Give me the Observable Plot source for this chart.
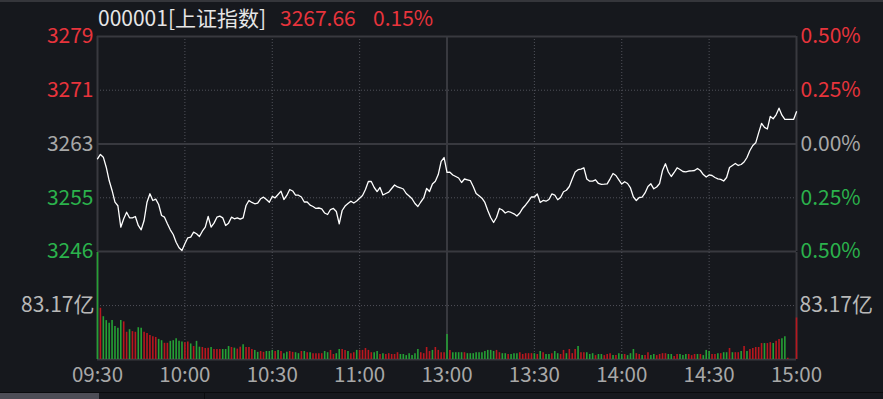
<!DOCTYPE html>
<html><head><meta charset="utf-8">
<script src="https://cdn.jsdelivr.net/npm/d3@7"></script>
<script src="https://cdn.jsdelivr.net/npm/@observablehq/plot@0.6"></script>
<style>
html,body{margin:0;padding:0;background:#16181d;}
#wrap{position:relative;width:883px;height:399px;overflow:hidden;background:#16181d;font-family:"Noto Sans CJK SC","Noto Sans",sans-serif;}
#title{position:relative;height:28px;border-top:2px solid #35363b;box-sizing:border-box;font-size:21px;line-height:21px;}
#title span{position:absolute;top:5px;white-space:nowrap;}
#price,#vol{display:block;line-height:0;}
#tabs{position:absolute;left:0;top:392px;width:883px;height:7px;border-top:1px solid #0a0b0d;background:#16181d;}
#tabs .t1{position:absolute;left:0;top:0;width:99px;height:7px;background:#4d4d56;}
#tabs .t2{position:absolute;left:204px;top:0;width:1px;height:7px;background:#0a0b0d;}
</style></head>
<body>
<div id="wrap">
  <div id="title"></div>
  <div id="price"></div>
  <div id="vol"></div>
  <div id="tabs"><div class="t1"></div><div class="t2"></div></div>
</div>
<script>
// ---------- data ----------
const titleCode = "000001[上证指数]";
const titleLast = "3267.66";
const titleChg = "0.15%";
const prevClose = 3262.77;

const priceTicks = [3279.08, 3270.93, 3262.77, 3254.61, 3246.46];
const priceLabels = ["3279", "3271", "3263", "3255", "3246"];
const pctLabels = ["0.50%", "0.25%", "0.00%", "0.25%", "0.50%"];

const timeTicks = [0, 30, 60, 90, 120, 150, 180, 210, 240];
const timeLabels = ["09:30", "10:00", "10:30", "11:00", "13:00", "13:30", "14:00", "14:30", "15:00"];

const volRef = 83.17;
const volRefLabel = "83.17亿";
const volTop = 165;

const prices = [
  3260.53, 3261.18, 3260.77, 3259.25, 3257.23, 3255.72, 3253.94, 3253.40, 3250.15, 3251.42,
  3252.42, 3251.57, 3251.57, 3251.77, 3250.41, 3249.75, 3251.16, 3253.94, 3255.22, 3254.20,
  3254.40, 3253.59, 3251.92, 3251.67, 3250.66, 3249.75, 3249.04, 3247.87, 3247.02, 3246.61,
  3247.63, 3248.54, 3248.63, 3249.39, 3249.15, 3248.74, 3249.54, 3250.15, 3251.77, 3250.15,
  3250.76, 3251.67, 3251.82, 3251.57, 3250.41, 3250.76, 3251.67, 3251.42, 3251.57, 3251.36,
  3251.57, 3253.44, 3254.20, 3253.90, 3253.70, 3253.79, 3254.46, 3254.70, 3254.35, 3253.94,
  3254.81, 3254.61, 3255.11, 3255.61, 3254.35, 3254.96, 3255.87, 3255.64, 3255.00, 3255.00,
  3254.73, 3253.97, 3253.97, 3253.49, 3253.29, 3252.99, 3253.06, 3252.94, 3252.30, 3252.08,
  3252.83, 3252.99, 3252.53, 3250.66, 3252.68, 3253.36, 3253.74, 3254.09, 3253.82, 3254.12,
  3254.55, 3254.96, 3255.87, 3257.08, 3257.08, 3256.17, 3255.56, 3256.17, 3255.03, 3255.26,
  3255.46, 3256.02, 3256.55, 3256.25, 3256.13, 3255.94, 3255.26, 3254.88, 3254.46, 3253.74,
  3253.29, 3253.97, 3254.58, 3256.02, 3255.56, 3256.70, 3257.13, 3258.14, 3260.12, 3260.72,
  3258.45, 3258.49, 3258.07, 3257.84, 3257.61, 3256.93, 3257.46, 3257.34, 3257.23, 3256.32,
  3255.26, 3254.91, 3254.55, 3253.90, 3252.68, 3251.62, 3250.86, 3251.62, 3252.99, 3252.76,
  3252.30, 3252.53, 3252.38, 3252.18, 3251.85, 3252.30, 3253.03, 3253.52, 3254.12, 3254.73,
  3254.73, 3255.19, 3253.90, 3254.20, 3254.09, 3254.35, 3255.19, 3255.03, 3254.31, 3254.65,
  3255.53, 3255.75, 3256.32, 3257.46, 3258.52, 3258.87, 3258.95, 3259.16, 3257.46, 3257.13,
  3257.13, 3257.34, 3256.78, 3256.63, 3256.67, 3256.73, 3257.49, 3258.30, 3257.99, 3257.34,
  3256.70, 3257.04, 3256.78, 3256.10, 3254.73, 3254.20, 3254.65, 3254.70, 3255.34, 3256.32,
  3256.73, 3255.97, 3256.25, 3256.78, 3258.75, 3259.77, 3258.52, 3257.84, 3258.45, 3259.16,
  3258.90, 3258.60, 3258.55, 3258.67, 3258.70, 3258.75, 3259.05, 3258.75, 3258.14, 3257.76,
  3258.07, 3257.99, 3257.69, 3257.49, 3257.41, 3257.16, 3257.69, 3259.21, 3259.51, 3259.81,
  3259.51, 3259.66, 3260.04, 3260.72, 3261.78, 3262.54, 3262.95, 3264.45, 3265.90, 3265.30,
  3265.05, 3266.95, 3266.60, 3267.20, 3268.20, 3267.15, 3266.50, 3266.50, 3266.50, 3266.50,
  3267.66
];

const vols = [
  165, 79, 66, 60, 56, 60, 51, 48, 60, 58,
  42, 46, 43, 42, 49, 48, 42, 40, 37, 35,
  34, 31, 29, 25, 25, 28, 29, 32, 28, 27,
  26, 27, 24, 20, 28, 19, 18.5, 17, 17.5, 18.5,
  15.4, 15.4, 15.4, 15.4, 15.4, 20, 18.5, 17.5, 16, 19,
  22.6, 18.5, 18.5, 15.4, 14, 11, 12.3, 11, 12.3, 12.3,
  14, 12.3, 14, 12.3, 9, 11, 12.3, 11, 10.5, 9,
  12.3, 12.3, 10.5, 10.5, 9, 9, 9, 9, 12.3, 10.5,
  14, 7.7, 9, 15.4, 15.4, 14, 12.3, 9, 10.5, 14,
  14, 14, 17, 14, 10.5, 10.5, 12.3, 7.7, 9, 7.7,
  9, 7.7, 7.7, 10.5, 7.7, 7.7, 6, 9, 6, 9,
  15.4, 10.5, 9, 18.5, 12.3, 14, 18.5, 14, 10.5, 10.5,
  38.5, 14, 10.5, 10.5, 10.5, 10.5, 10.5, 9, 9, 9,
  10.5, 10.5, 10.5, 12.3, 14, 14, 12.3, 14, 10.5, 9,
  9, 7.7, 7.7, 9, 9, 10.5, 7.7, 9, 9, 9,
  9, 7.7, 12.3, 10.5, 7.7, 7.7, 9, 12.3, 9, 7.7,
  14, 9, 15.4, 9, 15.4, 20, 10.5, 10.5, 10.5, 7.7,
  9, 6, 7.7, 7.7, 6, 7.7, 9, 6, 6, 9,
  7.7, 7.7, 6, 9, 15.4, 9, 7.7, 6, 6, 10.5,
  6, 7.7, 6, 7.7, 9, 9, 7.7, 7.7, 4.6, 7.7,
  7.7, 6, 7.7, 7.7, 6, 7.7, 7.7, 7.7, 6, 14,
  12.3, 7.7, 7.7, 9, 9, 10.5, 10.5, 17, 10.5, 10.5,
  10.5, 12.3, 20, 12.3, 15.4, 17, 18.5, 18.5, 24.6, 24.6,
  24.6, 26, 24.6, 28, 31, 32, 35, 2, 0, 0,
  64
];

// r = up minute (red), g = down minute (green)
const volDir = [
  "g","r","g","g","g","g","g","g","g","r",
  "r","g","r","r","g","g","r","r","r","r",
  "r","g","g","r","r","g","g","g","g","g",
  "r","r","g","r","g","g","r","r","r","g",
  "r","r","r","g","g","g","r","g","r","r",
  "g","r","r","r","g","g","r","r","g","g",
  "g","r","g","r","g","g","r","r","g","g",
  "r","g","r","g","r","r","r","r","g","g",
  "r","r","g","g","r","r","g","r","r","g",
  "r","r","r","r","r","g","g","r","g","r",
  "r","r","r","r","g","g","g","g","g","g",
  "g","r","r","r","r","g","r","r","r","r",
  "g","r","g","g","g","g","r","g","g","g",
  "g","g","g","g","g","g","g","r","r","g",
  "g","r","g","g","g","r","r","r","r","r",
  "g","r","g","r","g","g","r","g","g","r",
  "r","g","r","r","r","g","r","r","g","g",
  "g","r","g","g","r","r","r","g","r","g",
  "g","r","g","g","g","r","r","g","r","r",
  "g","g","r","r","r","r","g","g","r","r",
  "g","g","g","r","r","r","g","r","g","g",
  "g","r","r","g","r","g","g","r","g","r",
  "r","g","r","g","r","r","r","r","r","g",
  "r","r","g","r","r","g","g","r","r","r",
  "r"
];

// ---------- styles ----------
const RED = "#e8343c", GREEN = "#2bb24c", GRAY = "#a8a8a8";
const BAR_RED = "#b8171e", BAR_GREEN = "#25a035";
const SOLID = "#38393f", DOT = "#50515a";
const FONT = '"Noto Sans CJK SC","Noto Sans",sans-serif';
const W = 883, ML = 97, MR = 87;

// title
const t = document.getElementById("title");
[[titleCode, 98, "#e6e6e6"], [titleLast, 280, RED], [titleChg, 373, RED]].forEach(([s, x, c]) => {
  const sp = document.createElement("span");
  sp.textContent = s; sp.style.left = x + "px"; sp.style.color = c;
  t.appendChild(sp);
});

const signColor = d => d > prevClose + 0.01 ? RED : d < prevClose - 0.01 ? GREEN : GRAY;
const solidX = [timeTicks[0], timeTicks[4], timeTicks[8]];
const dotX = timeTicks.filter(d => !solidX.includes(d));

const pricePlot = Plot.plot({
  width: W, height: 224, marginTop: 8, marginBottom: 1, marginLeft: ML, marginRight: MR,
  x: {domain: [0, 240], axis: null},
  y: {domain: [priceTicks[4], priceTicks[0]], axis: null},
  color: {type: "identity"},
  style: {background: "transparent", fontFamily: FONT, fontSize: "21px", overflow: "visible"},
  marks: [
    Plot.ruleY([priceTicks[1], priceTicks[3]], {stroke: DOT, strokeDasharray: "1,2"}),
    Plot.ruleX(dotX, {stroke: DOT, strokeDasharray: "1,2"}),
    Plot.ruleY([priceTicks[0], priceTicks[2], priceTicks[4]], {stroke: SOLID, strokeWidth: 2}),
    Plot.ruleX(solidX, {stroke: SOLID, strokeWidth: 2}),
    Plot.lineY(prices, {x: (d, i) => i, y: d => d, stroke: "#ffffff", strokeWidth: 1.3}),
    Plot.text(priceTicks, {y: d => d, text: (d, i) => priceLabels[i], frameAnchor: "left", textAnchor: "end", dx: -4, fill: signColor, fontSize: 21}),
    Plot.text(priceTicks, {y: d => d, text: (d, i) => pctLabels[i], frameAnchor: "right", textAnchor: "start", dx: 4, fill: signColor, fontSize: 21})
  ]
});
document.getElementById("price").appendChild(pricePlot);

const volPlot = Plot.plot({
  width: W, height: 140, marginTop: 0, marginBottom: 33, marginLeft: ML, marginRight: MR,
  x: {domain: [0, 240], axis: null},
  y: {domain: [0, volTop], axis: null},
  color: {type: "identity"},
  style: {background: "transparent", fontFamily: FONT, fontSize: "21px", overflow: "visible"},
  marks: [
    Plot.ruleY([volRef], {stroke: DOT, strokeDasharray: "1,2"}),
    Plot.ruleX(dotX, {stroke: DOT, strokeDasharray: "1,2"}),
    Plot.ruleX(solidX, {stroke: SOLID, strokeWidth: 2}),
    Plot.ruleY([0], {stroke: SOLID, strokeWidth: 2}),
    Plot.ruleX(vols, {x: (d, i) => i, y1: 0, y2: d => d, stroke: (d, i) => volDir[i] === "r" ? BAR_RED : BAR_GREEN, strokeWidth: 1.6}),
    Plot.text([volRef], {y: d => d, text: () => volRefLabel, frameAnchor: "left", textAnchor: "end", dx: -3, fill: "#b8b8b8", fontSize: 21}),
    Plot.text([volRef], {y: d => d, text: () => volRefLabel, frameAnchor: "right", textAnchor: "start", dx: 3, fill: "#b8b8b8", fontSize: 21}),
    Plot.text(timeTicks, {x: d => d, text: (d, i) => timeLabels[i], frameAnchor: "bottom", dy: 22, fill: GRAY, fontSize: 20.5})
  ]
});
document.getElementById("vol").appendChild(volPlot);
</script>
</body></html>
